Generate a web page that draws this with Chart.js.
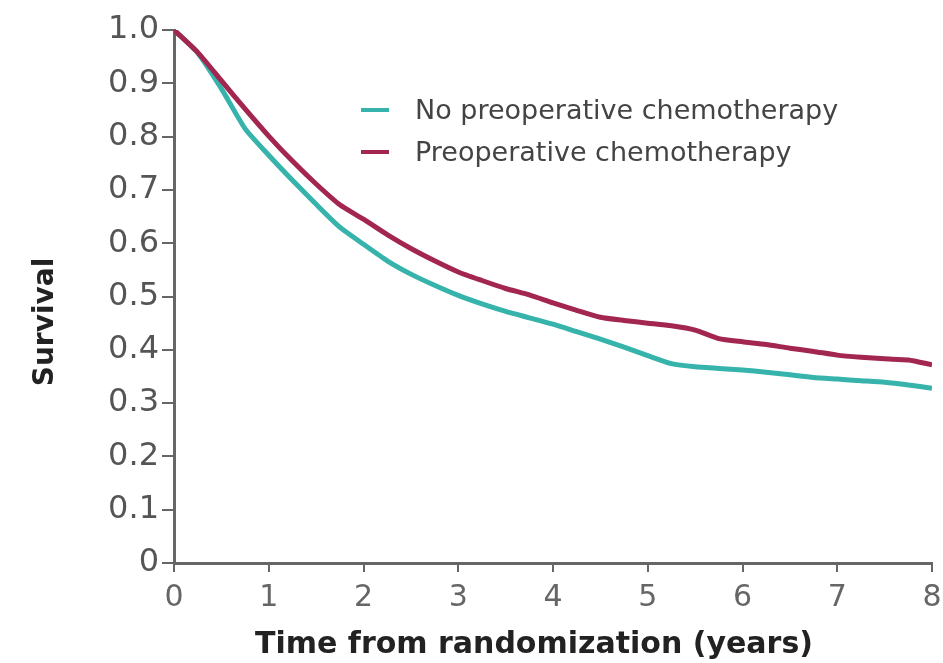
<!DOCTYPE html>
<html>
<head>
<meta charset="utf-8">
<script src="https://cdn.jsdelivr.net/npm/chart.js@4.4.1/dist/chart.umd.min.js"></script>
<style>
  html, body { margin: 0; padding: 0; background: #fff; }
  #wrap { width: 943px; height: 663px; }
</style>
</head>
<body>
<div id="wrap"><canvas id="survivalChart" width="943" height="663"></canvas></div>
<script>
// years since randomization, sampled every quarter year
const years = [0, 0.25, 0.5, 0.75, 1, 1.25, 1.5, 1.75, 2, 2.25, 2.5, 2.75, 3, 3.25, 3.5, 3.75,
    4, 4.25, 4.5, 4.75, 5, 5.25, 5.5, 5.75, 6, 6.25, 6.5, 6.75, 7, 7.25, 7.5, 7.75, 8];

const noChemo = [1.0, 0.957, 0.890, 0.815, 0.765, 0.718, 0.673, 0.630, 0.598, 0.567, 0.542, 0.521,
    0.502, 0.486, 0.472, 0.460, 0.448, 0.434, 0.420, 0.405, 0.389, 0.374, 0.368, 0.365,
    0.362, 0.358, 0.353, 0.348, 0.345, 0.342, 0.339, 0.334, 0.328];

const preopChemo = [1.0, 0.958, 0.905, 0.852, 0.801, 0.754, 0.711, 0.672, 0.645, 0.616, 0.590, 0.567,
    0.546, 0.530, 0.515, 0.503, 0.488, 0.474, 0.461, 0.455, 0.450, 0.445, 0.437, 0.421,
    0.415, 0.410, 0.403, 0.397, 0.390, 0.386, 0.383, 0.381, 0.372];

const seriesNames = ['No preoperative chemotherapy', 'Preoperative chemotherapy'];
const yTicks = [0, 0.1, 0.2, 0.3, 0.4, 0.5, 0.6, 0.7, 0.8, 0.9, 1.0];
const xTitle = 'Time from randomization (years)';
const yTitle = 'Survival';

const TEAL = '#36b3ab';
const MAROON = '#a2264f';

function toPoints(values) {
    return years.map((t, i) => ({ x: t, y: values[i] }));
}

// legend and axis titles are placed by hand
const annotations = {
    id: 'annotations',
    afterDraw(chart) {
        const ctx = chart.ctx;
        ctx.save();
        const rows = [110, 152];
        chart.data.datasets.forEach((ds, i) => {
            ctx.strokeStyle = ds.borderColor;
            ctx.lineWidth = 4;
            ctx.beginPath();
            ctx.moveTo(361, rows[i]);
            ctx.lineTo(389, rows[i]);
            ctx.stroke();
            ctx.fillStyle = '#444';
            ctx.font = '27px "DejaVu Sans"';
            ctx.textBaseline = 'middle';
            ctx.textAlign = 'left';
            ctx.fillText(ds.label, 415, rows[i] + 2);
        });

        ctx.fillStyle = '#222';
        ctx.font = 'bold 30px "DejaVu Sans"';
        ctx.textAlign = 'center';
        ctx.textBaseline = 'alphabetic';
        ctx.fillText(xTitle, 534, 653);

        ctx.translate(53, 322);
        ctx.rotate(-Math.PI / 2);
        ctx.font = 'bold 28px "DejaVu Sans"';
        ctx.fillText(yTitle, 0, 0);
        ctx.restore();
    }
};

new Chart(document.getElementById('survivalChart'), {
    type: 'line',
    data: {
        datasets: [{
            label: seriesNames[0],
            data: toPoints(noChemo),
            borderColor: TEAL,
            borderWidth: 5,
            pointRadius: 0,
            tension: 0.2,
            order: 1
        }, {
            label: seriesNames[1],
            data: toPoints(preopChemo),
            borderColor: MAROON,
            borderWidth: 5,
            pointRadius: 0,
            tension: 0.2,
            order: 0
        }]
    },
    options: {
        responsive: false,
        animation: false,
        layout: { padding: { top: 30, right: 0, left: 0, bottom: 0 } },
        plugins: {
            legend: { display: false },
            tooltip: { enabled: false }
        },
        scales: {
            x: {
                type: 'linear',
                min: 0,
                max: 8,
                ticks: {
                    stepSize: 1,
                    padding: 8,
                    color: '#666',
                    font: { family: 'DejaVu Sans', size: 30 }
                },
                grid: { drawOnChartArea: false, drawTicks: true, tickLength: 9, color: '#666', lineWidth: 2 },
                border: { color: '#666', width: 3 },
                afterFit(scale) {
                    scale.height = 100;
                    scale.paddingRight = 11;
                }
            },
            y: {
                type: 'linear',
                min: 0,
                max: 1,
                afterBuildTicks(scale) { scale.ticks = yTicks.map(v => ({ value: v })); },
                ticks: {
                    padding: 3,
                    color: '#555',
                    font: { family: 'DejaVu Sans', size: 32 },
                    callback: v => (v === 0 ? '0' : v.toFixed(1))
                },
                grid: { drawOnChartArea: false, drawTicks: true, tickLength: 12, color: '#666', lineWidth: 2 },
                border: { color: '#666', width: 3 },
                afterFit(scale) { scale.width = 174; }
            }
        }
    },
    plugins: [annotations]
});
</script>
</body>
</html>
